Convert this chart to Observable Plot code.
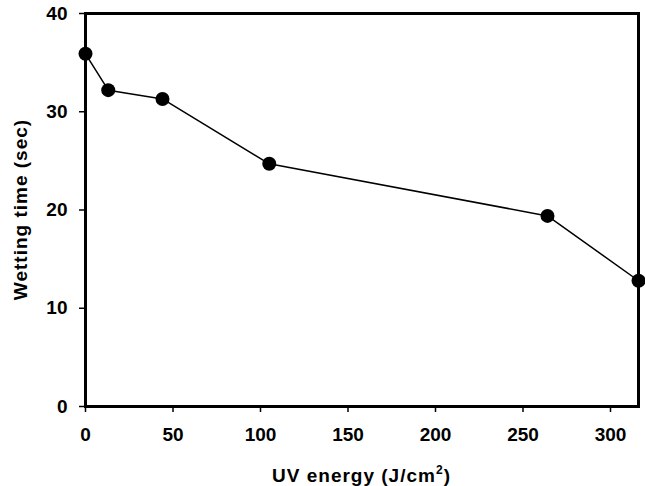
<!DOCTYPE html>
<html>
<head>
<meta charset="utf-8">
<script src="https://cdn.jsdelivr.net/npm/d3@7"></script>
<script src="https://cdn.jsdelivr.net/npm/@observablehq/plot@0.6"></script>
<style>
  html, body { margin: 0; padding: 0; background: #fff; }
  #chart svg { display: block; }
</style>
</head>
<body>
<div id="chart"></div>
<script>
const uvEnergy = [0, 13, 44, 105, 264, 316];
const wettingTime = [35.9, 32.2, 31.3, 24.7, 19.4, 12.8];
const xTicks = [0, 50, 100, 150, 200, 250, 300];
const yTicks = [0, 10, 20, 30, 40];
const xTitle = "UV energy (J/cm";
const xTitleSup = "2";
const xTitleEnd = ")";
const yTitle = "Wetting time (sec)";

const data = uvEnergy.map((x, i) => ({x, y: wettingTime[i]}));

const W = 645, H = 486;
const mL = 85, mR = 7, mT = 13, mB = 80;

const plot = Plot.plot({
  width: W,
  height: H,
  marginLeft: mL,
  marginRight: mR,
  marginTop: mT,
  marginBottom: mB,
  style: {fontFamily: "'Liberation Sans', Arial, sans-serif", fontSize: "19px", fontWeight: "bold", color: "#000", background: "#fff", overflow: "visible"},
  x: {domain: [0, 316]},
  y: {domain: [0, 40]},
  marks: [
    Plot.axisX({ticks: xTicks, tickSize: 6, tickPadding: 15, label: null, strokeWidth: 1.5, fontWeight: "bold", letterSpacing: 0.4}),
    Plot.axisY({ticks: yTicks, tickSize: 6, tickPadding: 12, label: null, strokeWidth: 1.5, fontWeight: "bold", letterSpacing: 0.4}),
    Plot.line(data, {x: "x", y: "y", stroke: "#000", strokeWidth: 1.5}),
    Plot.frame({stroke: "#000", strokeWidth: 3}),
    Plot.dot(data, {x: "x", y: "y", r: 7, fill: "#000", stroke: "none"})
  ]
});

document.getElementById("chart").appendChild(plot);

const svg = d3.select(plot);
const cx = (mL + (W - mR)) / 2;
const cy = (mT + (H - mB)) / 2;
const xt = svg.append("text")
  .attr("x", cx).attr("y", 482)
  .attr("text-anchor", "middle")
  .attr("font-size", 19).attr("font-weight", "bold")
  .attr("letter-spacing", 1)
  .attr("fill", "#000");
xt.append("tspan").text(xTitle);
xt.append("tspan").attr("font-size", 12).attr("dy", -8).text(xTitleSup);
xt.append("tspan").attr("dy", 8).text(xTitleEnd);

svg.append("text")
  .attr("transform", `translate(27,${cy}) rotate(-90)`)
  .attr("text-anchor", "middle")
  .attr("font-size", 19).attr("font-weight", "bold")
  .attr("letter-spacing", 1)
  .attr("fill", "#000")
  .text(yTitle);
</script>
</body>
</html>
